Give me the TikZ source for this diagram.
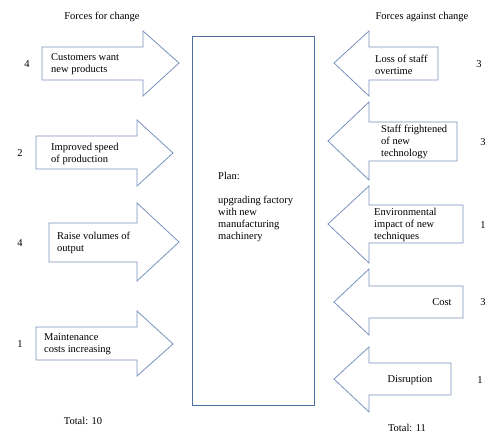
\documentclass[tikz,border=0pt]{standalone}
\usepackage{fontspec}
\setmainfont{Liberation Serif}
\definecolor{arrowblue}{RGB}{122,146,190}
\definecolor{boxblue}{RGB}{79,110,160}
\tikzset{
  arrowline/.style={draw=arrowblue, line width=0.8pt, fill=white},
  planbox/.style={draw=boxblue, line width=1pt},
  forcetext/.style={anchor=west, align=left, inner sep=0pt, font=\fontsize{10.5}{12}\selectfont},
  score/.style={inner sep=0pt, font=\fontsize{10.5}{12}\selectfont}
}
\begin{document}
\begin{tikzpicture}[x=1pt,y=-1pt]
\useasboundingbox (0,0) rectangle (488,435);

% Headings
\node[score] (forhead) at (102,17) {Forces for change};
\node[score] (againsthead) at (422,17) {Forces against change};

% Plan box in the middle
\draw[planbox] (192,37) rectangle (314,406);
\node[forcetext] (plan) at (218,207) {Plan:\\ \\upgrading factory\\with new\\manufacturing\\machinery};

% Forces for change (pointing right)
\draw[arrowline] (42,47) -- (143,47) -- (143,31) -- (179,63) -- (143,96) -- (143,80) -- (42,80) -- cycle;
\draw[arrowline] (36,136) -- (137,136) -- (137,120) -- (173,153) -- (137,186) -- (137,169) -- (36,169) -- cycle;
\draw[arrowline] (49,223) -- (137,223) -- (137,203) -- (179,242) -- (137,281) -- (137,262) -- (49,262) -- cycle;
\draw[arrowline] (36,327) -- (137,327) -- (137,311) -- (173,344) -- (137,376) -- (137,360) -- (36,360) -- cycle;

\node[forcetext] (customers) at (51,64) {Customers want\\new products};
\node[forcetext] (speed) at (51,154) {Improved speed\\of production};
\node[forcetext] (volumes) at (57,243) {Raise volumes of\\output};
\node[forcetext] (maintenance) at (44,344) {Maintenance\\costs increasing};

\node[score] (sc1) at (27,64) {4};
\node[score] (sc2) at (20,153) {2};
\node[score] (sc3) at (20,243) {4};
\node[score] (sc4) at (20,344) {1};
\node[score] (fortotal) at (83,421) {Total: 10};

% Forces against change (pointing left)
\draw[arrowline] (438,47) -- (369,47) -- (369,31) -- (334,63) -- (369,96) -- (369,80) -- (438,80) -- cycle;
\draw[arrowline] (457,122) -- (369,122) -- (369,102) -- (328,141) -- (369,180) -- (369,161) -- (457,161) -- cycle;
\draw[arrowline] (463,205) -- (369,205) -- (369,186) -- (328,224) -- (369,263) -- (369,243) -- (463,243) -- cycle;
\draw[arrowline] (463,286) -- (369,286) -- (369,269) -- (334,302) -- (369,335) -- (369,318) -- (463,318) -- cycle;
\draw[arrowline] (451,363) -- (369,363) -- (369,347) -- (334,379) -- (369,412) -- (369,395) -- (451,395) -- cycle;

\node[forcetext] (overtime) at (375,65) {Loss of staff\\overtime};
\node[forcetext] (frightened) at (381,142) {Staff frightened\\of new\\technology};
\node[forcetext] (environment) at (374,225) {Environmental\\impact of new\\techniques};
\node[score] (cost) at (442,302) {Cost};
\node[score] (disruption) at (410,380) {Disruption};

\node[score] (sc5) at (479,64) {3};
\node[score] (sc6) at (483,142) {3};
\node[score] (sc7) at (483,225) {1};
\node[score] (sc8) at (483,302) {3};
\node[score] (sc9) at (480,380) {1};
\node[score] (againsttotal) at (407,428) {Total: 11};

\end{tikzpicture}
\end{document}
